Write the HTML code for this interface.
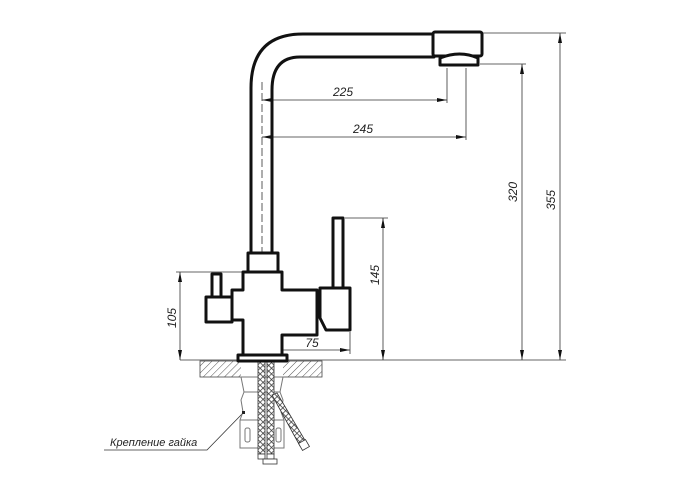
<!DOCTYPE html>
<html><head><meta charset="utf-8"><style>
html,body{margin:0;padding:0;background:#fff;}
svg{display:block}
text{font-family:"Liberation Sans",sans-serif;font-style:italic;fill:#222;}
</style></head><body>
<svg width="700" height="500" viewBox="0 0 700 500" xmlns="http://www.w3.org/2000/svg">
<defs>
<pattern id="h" width="5" height="5" patternUnits="userSpaceOnUse" patternTransform="rotate(45)">
<line x1="0" y1="0" x2="0" y2="5" stroke="#555" stroke-width="1"/></pattern>
<pattern id="mesh" width="4" height="4" patternUnits="userSpaceOnUse" patternTransform="rotate(45)">
<rect width="4" height="4" fill="#fff"/><path d="M0 0H4M0 0V4" stroke="#333" stroke-width="1.4"/></pattern>
<marker id="a" viewBox="0 0 10 4" refX="10" refY="2" markerWidth="12" markerHeight="4" orient="auto-start-reverse" markerUnits="userSpaceOnUse"><path d="M0 0L10 2L0 4z" fill="#111"/></marker>
</defs>
<g stroke="#333" stroke-width="0.8" fill="none">
<!-- extension lines -->
<line x1="482" y1="33" x2="566" y2="33"/>
<line x1="480" y1="64" x2="526" y2="64"/>
<line x1="180" y1="360" x2="566" y2="360"/>
<line x1="176" y1="272" x2="243" y2="272"/>
<line x1="345" y1="218" x2="388" y2="218"/>
<line x1="447" y1="68" x2="447" y2="103"/>
<line x1="466" y1="68" x2="466" y2="140"/>
<line x1="350" y1="332" x2="350" y2="354"/>
<line x1="262" y1="82" x2="262" y2="360" stroke-dasharray="8,3"/>
<!-- dims -->
<line x1="262" y1="100" x2="447" y2="100" marker-start="url(#a)" marker-end="url(#a)"/>
<line x1="262" y1="137" x2="466" y2="137" marker-start="url(#a)" marker-end="url(#a)"/>
<line x1="522" y1="64" x2="522" y2="360" marker-start="url(#a)" marker-end="url(#a)"/>
<line x1="560" y1="33" x2="560" y2="360" marker-start="url(#a)" marker-end="url(#a)"/>
<line x1="180" y1="272" x2="180" y2="360" marker-start="url(#a)" marker-end="url(#a)"/>
<line x1="383" y1="218" x2="383" y2="360" marker-start="url(#a)" marker-end="url(#a)"/>
<line x1="262" y1="350" x2="350" y2="350" marker-start="url(#a)" marker-end="url(#a)"/>
<!-- leader -->
<polyline points="104,450 207,450 243,413"/>
</g>
<g font-size="12">
<text x="343" y="96" text-anchor="middle">225</text>
<text x="363" y="133" text-anchor="middle">245</text>
<text x="312" y="347" text-anchor="middle">75</text>
<text transform="translate(517,192) rotate(-90)" text-anchor="middle">320</text>
<text transform="translate(555,200) rotate(-90)" text-anchor="middle">355</text>
<text transform="translate(176,318) rotate(-90)" text-anchor="middle">105</text>
<text transform="translate(379,275) rotate(-90)" text-anchor="middle">145</text>
<text x="110" y="446" font-size="11">Крепление гайка</text>
</g>
<!-- plate -->
<rect x="200" y="361" width="122" height="16" fill="url(#h)" stroke="#444" stroke-width="0.8"/>
<rect x="241" y="361" width="42" height="16" fill="#fff"/>
<!-- nut -->
<g stroke="#777" stroke-width="1" fill="#fff">
<path d="M241 377H283L280 392 283 400 281 412 284 420V448H240V420L243 412 241 400 244 392Z"/>
<line x1="240" y1="420" x2="284" y2="420"/>
<line x1="244" y1="392" x2="280" y2="392"/>
<rect x="245" y="428" width="5" height="14" rx="2"/><rect x="276" y="428" width="5" height="14" rx="2"/>
</g>
<rect x="242" y="411" width="3" height="3" fill="#222"/>
<!-- hoses -->
<g stroke="#333" stroke-width="0.8">
<rect x="258" y="362" width="7" height="92" fill="url(#mesh)"/>
<rect x="267" y="362" width="7" height="92" fill="url(#mesh)"/>
<path d="M272 395L277 393 306 442 300 446Z" fill="url(#mesh)"/>
<rect x="300" y="441" width="8" height="8" fill="#fff" transform="rotate(-30 304 445)"/>
<rect x="258" y="454" width="7" height="5" fill="#fff"/><rect x="267" y="454" width="7" height="5" fill="#fff"/>
<rect x="263" y="459" width="14" height="5" fill="#fff"/>
</g>
<!-- faucet -->
<g stroke="#111" stroke-width="3" fill="#fff" stroke-linejoin="round">
<path d="M251 253V88Q251 34 303 34H434V57H300Q272 57 272 90V253" fill="none"/>
<rect x="433" y="32" width="49" height="24" rx="2"/>
<path d="M440 58Q460 50 478 58V65H440Z"/>
<rect x="248" y="253" width="30" height="19"/>
<path d="M243 272H282V290H317V335H282V355H243V320H232V290H243Z"/>
<rect x="206" y="297" width="26" height="25"/>
<rect x="212" y="274" width="9" height="23"/>
<rect x="333" y="218" width="10" height="70"/>
<path d="M320 288H350V330H326L320 318Z"/>
<rect x="238" y="355" width="49" height="6"/>
</g>
</svg>
</body></html>
